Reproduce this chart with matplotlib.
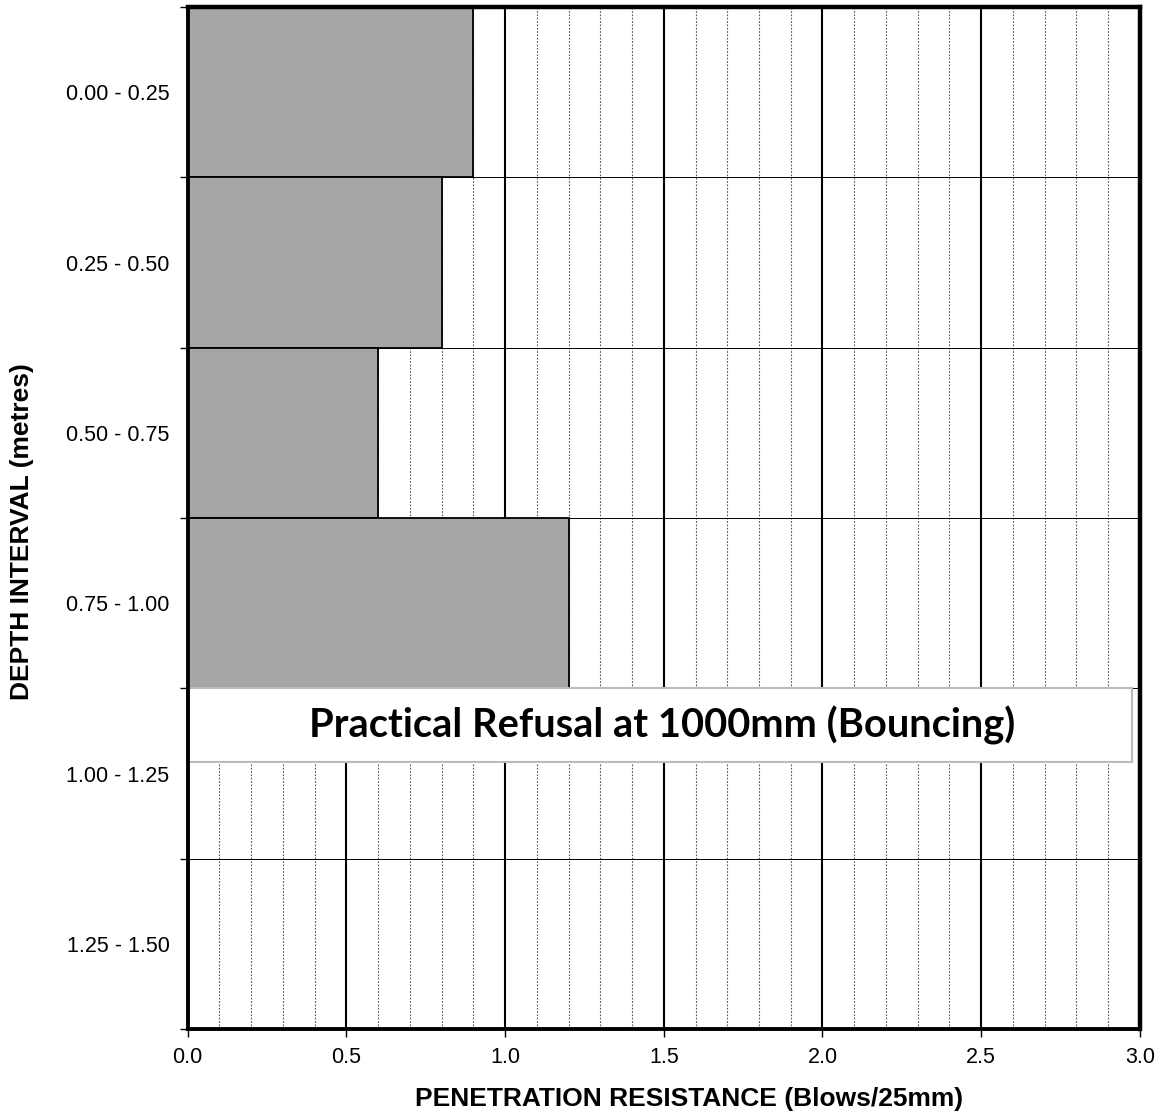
import numpy as np
import matplotlib.pyplot as plt
from matplotlib.patches import Rectangle

# Depth intervals and blow counts
depths = ['0.00 - 0.25', '0.25 - 0.50', '0.50 - 0.75', '0.75 - 1.00',
          '1.00 - 1.25', '1.25 - 1.50']
blows = [0.9, 0.8, 0.6, 1.2, 0.0, 0.0]
x_major = [0.0, 0.5, 1.0, 1.5, 2.0, 2.5, 3.0]
note = 'Practical Refusal at 1000mm (Bouncing)'

fig = plt.figure(figsize=(11.65, 11.15), dpi=100)
ax = fig.add_axes([0.161, 0.0771, 0.8175, 0.9166])

pos = np.arange(len(depths))
ax.barh(pos, blows, height=1.0, color='#a6a6a6', edgecolor='black',
        linewidth=1.3, zorder=3)

ax.set_xlim(0, 3.0)
ax.set_ylim(len(depths) - 0.5, -0.5)

# vertical grid: solid at 0.5, dotted at 0.1
for v in np.arange(0.1, 3.0, 0.1):
    if abs(v / 0.5 - round(v / 0.5)) < 1e-6:
        ax.axvline(v, color='black', lw=1.5, zorder=1)
    else:
        ax.axvline(v, color='#555555', lw=0.8, ls=(0, (1.5, 1.5)), zorder=1)
# horizontal lines at interval boundaries
for b in np.arange(0.5, len(depths) - 0.5, 1.0):
    ax.axhline(b, color='black', lw=0.7, zorder=1)

ax.set_xticks(x_major)
ax.set_xticklabels(['%.1f' % v for v in x_major], fontsize=15.5,
                   family='Liberation Sans')
ax.set_yticks(np.arange(-0.5, len(depths), 1.0))
ax.set_yticklabels([])
ax.set_yticks(pos, minor=True)
ax.set_yticklabels(depths, minor=True, fontsize=15.5, family='Liberation Sans')
ax.tick_params(axis='y', which='minor', length=0, pad=13)
ax.tick_params(axis='both', which='major', length=6, width=1, direction='out')
ax.tick_params(axis='x', pad=7)

for side, s in ax.spines.items():
    s.set_linewidth(3.2 if side in ('top', 'right') else 2.8)
    s.set_zorder(5)

# axis titles
fig.text(0.5914, 0.0143, 'PENETRATION RESISTANCE (Blows/25mm)', fontsize=19,
         fontweight='bold', family='Liberation Sans', ha='center', va='center')
fig.text(0.0193, 0.523, 'DEPTH INTERVAL (metres)', rotation=90, fontsize=19,
         fontweight='bold', family='Liberation Sans', ha='center', va='center')

# refusal note box
box = Rectangle((0.0, 3.5), 2.975, 0.43, facecolor='white',
                edgecolor='#bbbbbb', lw=1.5, zorder=4)
ax.add_patch(box)
ax.text(1.495, 3.72, note, fontsize=28.7, fontweight='bold', family='Lato',
        ha='center', va='center', zorder=6)

fig.savefig('out.png', dpi=100)
